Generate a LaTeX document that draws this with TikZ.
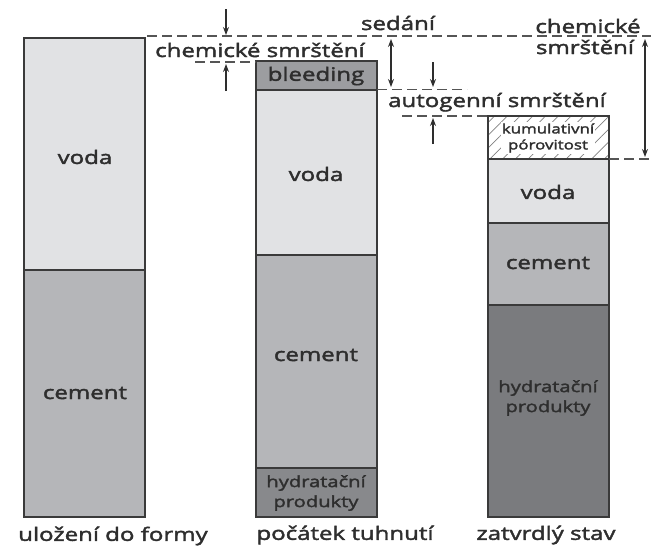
\documentclass[tikz,border=0pt]{standalone}
\usepackage{fontspec}
\setmainfont{Open Sans}[FakeStretch=1.3, FakeBold=2.2]
\usetikzlibrary{patterns.meta,arrows.meta}
\definecolor{txt}{HTML}{2E2E2E}
\definecolor{edge}{HTML}{3A3A3A}
\definecolor{voda}{HTML}{E1E2E4}
\definecolor{cem}{HTML}{B5B6B9}
\definecolor{hydA}{HTML}{88898C}
\definecolor{hydB}{HTML}{7A7B7E}
\definecolor{bleed}{HTML}{9C9DA0}
\definecolor{dashc}{HTML}{555555}
\tikzset{
  seg/.style={draw=edge, line width=1.8pt},
  lbl/.style={text=txt, font=\fontsize{18.5}{22}\selectfont, inner sep=0pt},
  small/.style={text=txt, font=\fontsize{15.5}{20}\selectfont, inner sep=0pt, align=center},
  tiny/.style={text=txt, font=\fontsize{13}{16}\selectfont, inner sep=1pt, align=center, fill=white},
  guide/.style={draw=dashc, line width=1.3pt, dash pattern=on 10pt off 5pt},
  dim/.style={draw=txt, line width=1.2pt, -{Stealth[length=8pt,width=6pt]}},
  dimboth/.style={draw=txt, line width=1.2pt, {Stealth[length=8pt,width=6pt]}-{Stealth[length=8pt,width=6pt]}}
}
\begin{document}
\begin{tikzpicture}[x=1pt,y=-1pt]
\useasboundingbox (0,0) rectangle (651,547);
% column 1
\path[fill=voda] (24,38) rectangle (145,270);
\path[fill=cem] (24,270) rectangle (145,517);
\draw[seg] (24,270) -- (145,270);
\draw[seg] (24,38) rectangle (145,517);
\node[lbl] (v1) at (85,157) {voda};
\node[lbl] (c1) at (85,393) {cement};
\node[lbl] (t1) at (113,536) {uložení do formy};
% column 2
\path[fill=bleed] (256,61) rectangle (377,90);
\path[fill=voda] (256,90) rectangle (377,255);
\path[fill=cem] (256,255) rectangle (377,468);
\path[fill=hydA] (256,468) rectangle (377,517);
\draw[seg] (256,90) -- (377,90) (256,255) -- (377,255) (256,468) -- (377,468);
\draw[seg] (256,61) rectangle (377,517);
\node[lbl] (b2) at (316,76) {bleeding};
\node[lbl] (v2) at (316,174) {voda};
\node[lbl] (c2) at (316,355) {cement};
\node[small] (h2) at (316,493) {hydratační\\produkty};
\node[lbl] (t2) at (345,535) {počátek tuhnutí};
% column 3
\path[pattern={Lines[angle=45,distance=9pt,line width=0.7pt]}, pattern color=gray] (488,116) rectangle (609,159);
\path[fill=voda] (488,159) rectangle (609,223);
\path[fill=cem] (488,223) rectangle (609,305);
\path[fill=hydB] (488,305) rectangle (609,517);
\draw[seg] (488,159) -- (609,159) (488,223) -- (609,223) (488,305) -- (609,305);
\draw[seg] (488,116) rectangle (609,517);
\node[tiny] (k3) at (548,138) {kumulativní\\pórovitost};
\node[lbl] (v3) at (548,192) {voda};
\node[lbl] (c3) at (548,263) {cement};
\node[small] (h3) at (548,398) {hydratační\\produkty};
\node[lbl] (t3) at (546,535) {zatvrdlý stav};
% guide lines
\coordinate (g1a) at (147,36); \coordinate (g1b) at (651,36);
\coordinate (g2a) at (195,62); \coordinate (g2b) at (256,62);
\coordinate (g3a) at (377,89.5); \coordinate (g3b) at (467,89.5);
\coordinate (g4a) at (402,116); \coordinate (g4b) at (488,116);
\coordinate (g5a) at (609,159); \coordinate (g5b) at (651,159);
\draw[guide] (g1a) -- (g1b);
\draw[guide] (g2a) -- (g2b);
\draw[guide] (g3a) -- (g3b);
\draw[guide] (g4a) -- (g4b);
\draw[guide] (g5a) -- (g5b);
% labels
\node[lbl, anchor=base] (sed) at (398,30) {sedání};
\node[lbl, anchor=base] (chL) at (260,57) {chemické smrštění};
\node[lbl, anchor=base] (chR1) at (588,33) {chemické};
\node[lbl, anchor=base] (chR2) at (585,54) {smrštění};
\node[lbl, anchor=base] (aut) at (497,107) {autogenní smrštění};
% dimension arrows
\coordinate (a1s) at (226,9); \coordinate (a1e) at (226,35);
\coordinate (a2s) at (226,91); \coordinate (a2e) at (226,64);
\coordinate (a3s) at (391,39); \coordinate (a3e) at (391,87);
\coordinate (a4s) at (433,62); \coordinate (a4e) at (433,87);
\coordinate (a5s) at (433,144); \coordinate (a5e) at (433,118);
\coordinate (a6s) at (645,39); \coordinate (a6e) at (645,157);
\draw[dim] (a1s) -- (a1e);
\draw[dim] (a2s) -- (a2e);
\draw[dimboth] (a3s) -- (a3e);
\draw[dim] (a4s) -- (a4e);
\draw[dim] (a5s) -- (a5e);
\draw[dimboth] (a6s) -- (a6e);
\end{tikzpicture}
\end{document}
